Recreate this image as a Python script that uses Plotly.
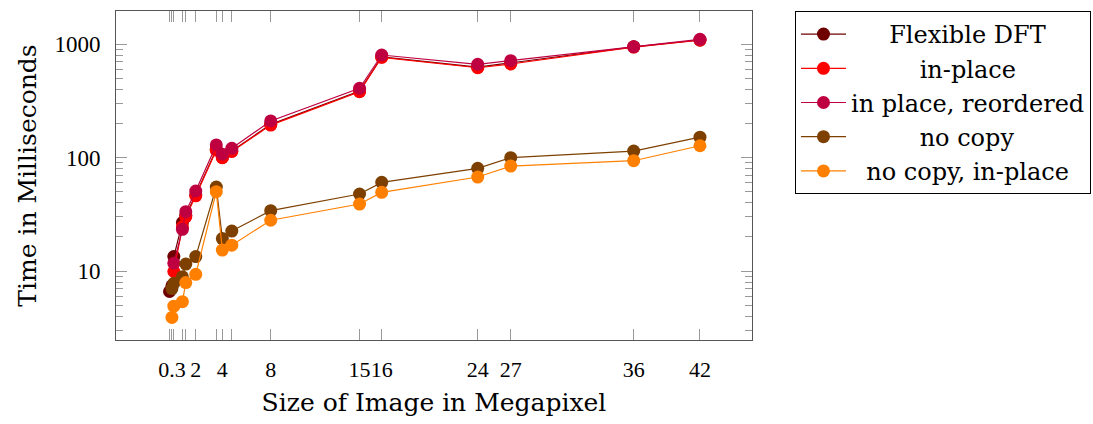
import plotly.graph_objects as go

# Image sizes in megapixel (x positions of every measurement)
sizes = [0.08, 0.27, 0.42, 1.1, 1.37, 2.16, 3.79, 4.27, 5.02, 8.11,
         15.16, 16.92, 24.54, 27.16, 36.92, 42.18]
size_labels = ["", "0.3", "", "", "", "2", "", "4", "", "8",
               "15", "16", "24", "27", "36", "42"]

# Times in milliseconds
flexible_dft = [6.6, 7.4, 13.4, 26.7, 31.0, 47.0, 118, 100, 114, 196,
                385, 770, 625, 680, 945, 1085]
in_place = [None, None, 9.9, 24.5, 30.1, 46.0, 116, 99.6, 113, 193,
            380, 764, 618, 667, 940, 1080]
in_place_reordered = [None, None, 11.7, 23.3, 33.3, 50.7, 129, 107, 120.6, 210,
                      407, 800, 662, 713, 947, 1100]
no_copy = [None, 7.0, 7.8, 8.9, 11.5, 13.4, 55.0, 19.3, 22.5, 34.0,
           47.7, 60.4, 80.3, 99.7, 114, 151]
no_copy_in_place = [None, 3.9, 4.9, 5.37, 7.9, 9.35, 50.0, 15.3, 16.9, 28.0,
                    38.9, 49.3, 67.3, 84.1, 93.7, 127]

series_names = ["Flexible DFT", "in-place", "in place, reordered", "no copy", "no copy, in-place"]
series_values = [flexible_dft, in_place, in_place_reordered, no_copy, no_copy_in_place]
series_colors = ["rgb(110,0,0)", "rgb(255,0,0)", "rgb(191,0,64)", "rgb(125,64,0)", "rgb(255,128,0)"]
# non-breaking spaces used to centre the legend labels, as in the original
legend_pad = [5, 9, 0, 9, 2]

FONT = "DejaVu Serif"
TICK_FONT = "Liberation Serif"
NBSP = "\u00a0"

fig = go.Figure()
for name, vals, col, pad in zip(series_names, series_values, series_colors, legend_pad):
    fig.add_trace(go.Scatter(
        x=sizes, y=vals, name=NBSP * pad + name, mode="lines+markers",
        line=dict(color=col, width=1.2),
        marker=dict(color=col, size=13, line=dict(width=0)),
        connectgaps=False,
    ))

fig.update_layout(
    width=1093, height=424,
    margin=dict(l=116, r=341, t=11, b=84, autoexpand=False),
    paper_bgcolor="white", plot_bgcolor="white",
    font=dict(family=FONT, color="black", size=20),
    showlegend=True,
    legend=dict(
        x=1.533, y=1.0, xanchor="right", yanchor="top",
        bordercolor="black", borderwidth=1, bgcolor="white",
        font=dict(family=FONT, size=24, color="black"),
        tracegroupgap=0, itemwidth=45,
    ),
)

fig.update_xaxes(
    range=[-4.17, 46.31], automargin=False,
    tickmode="array", tickvals=sizes, ticktext=size_labels, tickangle=0,
    ticks="inside", ticklen=11, tickwidth=1, tickcolor="#999999",
    showline=True, linecolor="#555555", linewidth=1, mirror="allticks",
    showgrid=False, zeroline=False,
    tickfont=dict(family=TICK_FONT, size=22, color="black"),
    ticklabelstandoff=10,
    title=dict(text="Size of Image in Megapixel", font=dict(family=FONT, size=25, color="black"), standoff=12),
)

fig.update_yaxes(
    type="log", range=[0.392, 3.291], automargin=False,
    tickmode="linear", tick0=0, dtick=1, exponentformat="none",
    ticks="inside", ticklen=11, tickwidth=1, tickcolor="#999999",
    minor=dict(ticks="inside", ticklen=7, tickwidth=1, tickcolor="#999999", dtick="D1", showgrid=False),
    showline=True, linecolor="#555555", linewidth=1, mirror="allticks",
    showgrid=False, zeroline=False,
    tickfont=dict(family=TICK_FONT, size=23, color="black"),
    ticklabelstandoff=10,
    title=dict(text="Time in Milliseconds", font=dict(family=FONT, size=25, color="black"), standoff=10),
)

fig.write_html("out.html")
